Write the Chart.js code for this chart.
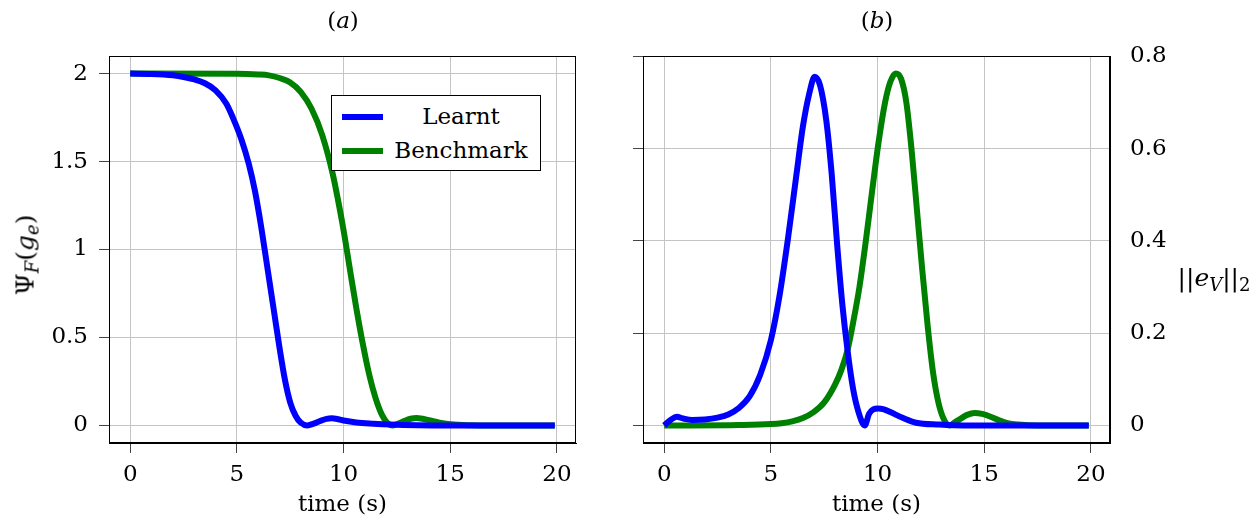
<!DOCTYPE html>
<html>
<head>
<meta charset="utf-8">
<script src="https://cdn.jsdelivr.net/npm/chart.js@4.4.1/dist/chart.umd.min.js"></script>
<style>
  body { margin: 0; width: 1260px; height: 523px; background: #fff; position: relative; overflow: hidden; font-family: "DejaVu Serif", serif; color: #000; }
  .panel { position: absolute; top: 0; height: 523px; }
  #pa { left: 0; width: 620px; }
  #pb { left: 620px; width: 640px; }
  .lbl { position: absolute; font-size: 23px; line-height: 1; white-space: nowrap; transform: translate(-50%, -50%); }
  .lbl.big { font-size: 25px; }
  .lbl sub { font-size: 72%; vertical-align: -0.3em; line-height: 0; }
  #legend { position: absolute; left: 331px; top: 95px; width: 208px; height: 74px; border: 1px solid #000; background: #fff; font-size: 23px; }
  #legend .row { position: absolute; left: 0; width: 208px; height: 30px; }
  #legend .swatch { position: absolute; left: 10px; top: 12px; width: 41px; height: 6px; }
  #legend .txt { position: absolute; left: 58px; width: 142px; text-align: center; top: 3px; line-height: 1; }
</style>
</head>
<body>
<div class="panel" id="pa"><canvas id="chartA"></canvas></div>
<div class="panel" id="pb"><canvas id="chartB"></canvas></div>

<div class="lbl" style="left:343px; top:20px;">(<i>a</i>)</div>
<div class="lbl" style="left:877px; top:20px;">(<i>b</i>)</div>
<div class="lbl big" style="left:25px; top:255px; transform: translate(-50%, -50%) rotate(-90deg);">&Psi;<sub><i>F</i></sub>(<i>g</i><sub><i>e</i></sub>)</div>
<div class="lbl big" style="left:1214px; top:277px;">||<i>e</i><sub><i>V</i></sub>||<sub>2</sub></div>

<div id="legend">
  <div class="row" style="top:6px;"><div class="swatch" style="background:#0000ff"></div><div class="txt">Learnt</div></div>
  <div class="row" style="top:40px;"><div class="swatch" style="background:#008000"></div><div class="txt">Benchmark</div></div>
</div>

<script>
// (a) Psi_F(g_e) over time
const tLearntA = [0, 1, 2, 2.5, 3.0, 3.5, 4.0, 4.5, 4.81, 5.2, 5.55, 5.85, 6.15, 6.45, 6.75, 7.0, 7.25, 7.5, 7.75, 8.0, 8.3, 8.6, 8.9, 9.2, 9.45, 9.75, 10.0, 10.6, 11.4, 12.2, 13.5, 15, 19.9];
const psiLearnt = [2.0, 1.998, 1.99, 1.981, 1.967, 1.945, 1.905, 1.83, 1.75, 1.63, 1.49, 1.33, 1.12, 0.88, 0.64, 0.44, 0.26, 0.13, 0.055, 0.015, 0, 0.01, 0.025, 0.037, 0.04, 0.035, 0.028, 0.017, 0.01, 0.005, 0.001, 0, 0];
const tBenchA = [0, 5, 6.0, 6.5, 7.0, 7.5, 8.0, 8.5, 9.0, 9.5, 9.75, 10.0, 10.3, 10.6, 10.9, 11.2, 11.5, 11.8, 12.05, 12.3, 12.6, 12.9, 13.2, 13.4, 13.7, 14.06, 14.5, 15.04, 16, 17, 19.9];
const psiBench = [2.0, 1.999, 1.995, 1.99, 1.975, 1.95, 1.895, 1.8, 1.65, 1.425, 1.275, 1.11, 0.885, 0.665, 0.465, 0.29, 0.155, 0.06, 0.015, 0, 0.012, 0.028, 0.039, 0.042, 0.038, 0.028, 0.016, 0.006, 0.001, 0, 0];

// (b) ||e_V||_2 over time
const tLearntB = [0, 0.3, 0.58, 0.9, 1.3, 1.9, 2.5, 3.0, 3.5, 4.0, 4.5, 5.0, 5.4, 5.8, 6.2, 6.5, 6.8, 7.05, 7.3, 7.6, 7.85, 8.1, 8.35, 8.6, 8.85, 9.1, 9.4, 9.6, 9.8, 10.03, 10.3, 10.6, 11.2, 11.8, 12.9, 14, 19.9];
const errLearnt = [0, 0.012, 0.019, 0.015, 0.012, 0.013, 0.017, 0.024, 0.038, 0.063, 0.11, 0.185, 0.28, 0.405, 0.545, 0.648, 0.72, 0.756, 0.738, 0.66, 0.545, 0.395, 0.262, 0.16, 0.08, 0.03, 0, 0.025, 0.035, 0.037, 0.035, 0.029, 0.016, 0.006, 0.002, 0, 0];
const tBenchB = [0, 3.5, 5.0, 5.5, 6.0, 6.5, 7.0, 7.5, 8.0, 8.3, 8.6, 8.85, 9.15, 9.45, 9.75, 10.05, 10.35, 10.6, 10.85, 11.1, 11.35, 11.6, 11.85, 12.1, 12.35, 12.6, 12.85, 13.1, 13.38, 13.65, 13.9, 14.2, 14.55, 14.9, 15.3, 15.7, 16.1, 16.6, 17.5, 19.9];
const errBench = [0, 0.001, 0.003, 0.005, 0.009, 0.016, 0.029, 0.05, 0.088, 0.12, 0.165, 0.222, 0.30, 0.40, 0.51, 0.615, 0.70, 0.745, 0.763, 0.752, 0.70, 0.595, 0.465, 0.335, 0.215, 0.115, 0.05, 0.014, 0, 0.008, 0.015, 0.023, 0.027, 0.025, 0.019, 0.011, 0.005, 0.002, 0, 0];

const xTickStep = 5;
const psiTickStep = 0.5;
const errTickStep = 0.2;

const BLUE = '#0000ff';
const GREEN = '#008000';
const GRID = '#c4c4c4';
const TICK = '#444';

Chart.defaults.font.family = '"DejaVu Serif", serif';
Chart.defaults.font.size = 23;
Chart.defaults.color = '#000';

const pts = (xs, ys) => xs.map((x, i) => ({ x: x, y: ys[i] }));
const fmt = v => String(+v.toFixed(2));

// full box around the plot area
const frame = {
  id: 'frame',
  afterDraw(chart) {
    const a = chart.chartArea, ctx = chart.ctx;
    ctx.save();
    ctx.strokeStyle = '#000';
    ctx.lineWidth = 1;
    ctx.strokeRect(Math.round(a.left) + 0.5, Math.round(a.top) + 0.5, Math.round(a.right - a.left) - 1, Math.round(a.bottom - a.top) - 1);
    ctx.restore();
  }
};

function line(data, color) {
  return {
    data: data,
    borderColor: color,
    backgroundColor: color,
    borderWidth: 6,
    pointRadius: 0,
    cubicInterpolationMode: 'monotone',
    fill: false,
    yAxisID: 'y'
  };
}

function timeAxis() {
  return {
    type: 'linear',
    min: -0.995,
    max: 20.895,
    ticks: { stepSize: xTickStep, includeBounds: false, padding: 8, maxRotation: 0, callback: fmt },
    grid: { color: GRID, tickColor: TICK, tickLength: 10 },
    border: { color: '#000' },
    title: { display: true, text: 'time (s)', padding: { top: 0, bottom: 4 } },
    afterFit: s => { s.height = 80; }
  };
}

new Chart(document.getElementById('chartA'), {
  type: 'line',
  data: {
    datasets: [
      line(pts(tLearntA, psiLearnt), BLUE),
      line(pts(tBenchA, psiBench), GREEN)
    ]
  },
  options: {
    responsive: true,
    maintainAspectRatio: false,
    animation: false,
    layout: { padding: { top: 56, right: 44, left: 0, bottom: 0 } },
    plugins: { legend: { display: false }, tooltip: { enabled: false } },
    scales: {
      x: timeAxis(),
      y: {
        type: 'linear',
        min: -0.1,
        max: 2.1,
        ticks: { stepSize: psiTickStep, includeBounds: false, padding: 11, callback: fmt },
        grid: { color: GRID, tickColor: TICK, tickLength: 10 },
        border: { color: '#000' },
        afterFit: s => { s.width = 109; }
      }
    }
  },
  plugins: [frame]
});

new Chart(document.getElementById('chartB'), {
  type: 'line',
  data: {
    datasets: [
      line(pts(tLearntB, errLearnt), BLUE),
      line(pts(tBenchB, errBench), GREEN)
    ]
  },
  options: {
    responsive: true,
    maintainAspectRatio: false,
    animation: false,
    layout: { padding: { top: 56, right: 0, left: 0, bottom: 0 } },
    plugins: { legend: { display: false }, tooltip: { enabled: false } },
    scales: {
      x: timeAxis(),
      yl: {
        type: 'linear',
        position: 'left',
        min: -0.038,
        max: 0.801,
        ticks: { stepSize: errTickStep, includeBounds: false, display: false },
        grid: { drawOnChartArea: false, tickColor: TICK, tickLength: 10 },
        border: { color: '#000' },
        afterFit: s => { s.width = 23; }
      },
      y: {
        type: 'linear',
        position: 'right',
        min: -0.038,
        max: 0.801,
        ticks: { stepSize: errTickStep, includeBounds: false, padding: 20, callback: fmt },
        grid: { color: GRID, drawTicks: false },
        border: { color: '#000' },
        afterFit: s => { s.width = 150; }
      }
    }
  },
  plugins: [frame]
});
</script>
</body>
</html>
